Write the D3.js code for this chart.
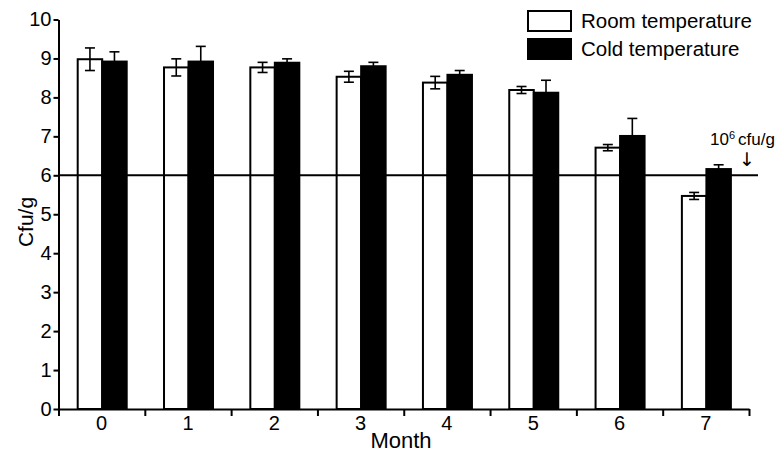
<!DOCTYPE html>
<html>
<head>
<meta charset="utf-8">
<script src="https://cdn.jsdelivr.net/npm/d3@7"></script>
<style>
  html, body { margin: 0; padding: 0; background: #fff; }
  svg text { font-family: "Liberation Sans", Arial, sans-serif; fill: #000; }
</style>
</head>
<body>
<div id="chart"></div>
<script>
// data
const months = ["0", "1", "2", "3", "4", "5", "6", "7"];
const roomVals = [8.98, 8.77, 8.77, 8.53, 8.38, 8.19, 6.71, 5.47];
const roomErr = [0.29, 0.22, 0.13, 0.14, 0.16, 0.09, 0.08, 0.09];
const coldVals = [8.92, 8.92, 8.89, 8.80, 8.58, 8.12, 7.01, 6.16];
const coldErr = [0.25, 0.39, 0.10, 0.10, 0.11, 0.32, 0.45, 0.11];
const yTicks = [0, 1, 2, 3, 4, 5, 6, 7, 8, 9, 10];
const seriesNames = ["Room temperature", "Cold temperature"];
const threshold = 6;

const w = 783, h = 454;
const padL = 58.5, padR = 749, padT = 19.5, padB = 409;

const svg = d3.select("#chart").append("svg")
  .attr("width", w).attr("height", h);

const x = d3.scaleBand().domain(months).range([padL, padR]).padding(0);
const xEdges = d3.scaleLinear().domain([0, months.length]).range([padL, padR]);
const inner = d3.scaleBand().domain(["room", "cold"]).range([19.2, 68.2]).padding(0);
const y = d3.scaleLinear().domain([0, 10]).range([padB, padT]);

const data = months.map((m, i) => ({
  month: m,
  vals: [
    {key: "room", v: roomVals[i], e: roomErr[i]},
    {key: "cold", v: coldVals[i], e: coldErr[i]}
  ]
}));

// bars
const groups = svg.selectAll("g.grp").data(data).enter().append("g")
  .attr("class", "grp")
  .attr("transform", d => `translate(${x(d.month)},0)`);

groups.selectAll("rect").data(d => d.vals).enter().append("rect")
  .attr("x", d => inner(d.key))
  .attr("width", inner.bandwidth())
  .attr("y", d => y(d.v))
  .attr("height", d => y(0) - y(d.v))
  .attr("fill", d => d.key === "room" ? "#fff" : "#000")
  .attr("stroke", "#000")
  .attr("stroke-width", 2);

// error bars
const eb = groups.selectAll("g.err").data(d => d.vals).enter().append("g")
  .attr("class", "err")
  .attr("stroke", "#000")
  .attr("stroke-width", 1.6);
const cx = d => inner(d.key) + inner.bandwidth() / 2;
eb.append("line")
  .attr("x1", cx).attr("x2", cx)
  .attr("y1", d => y(d.v + d.e)).attr("y2", d => y(d.v - d.e));
eb.append("line")
  .attr("x1", d => cx(d) - 5).attr("x2", d => cx(d) + 5)
  .attr("y1", d => y(d.v + d.e)).attr("y2", d => y(d.v + d.e));
eb.append("line")
  .attr("x1", d => cx(d) - 5).attr("x2", d => cx(d) + 5)
  .attr("y1", d => y(d.v - d.e)).attr("y2", d => y(d.v - d.e));

// threshold line
svg.append("line")
  .attr("x1", padL).attr("x2", 758)
  .attr("y1", y(threshold)).attr("y2", y(threshold))
  .attr("stroke", "#000").attr("stroke-width", 2);

// y axis
const yAxis = svg.append("g")
  .attr("transform", `translate(${padL},0)`)
  .call(d3.axisLeft(y).tickValues(yTicks).tickSize(5).tickSizeOuter(0).tickPadding(2));
yAxis.selectAll("text").style("font-size", "20px");

// x axis: edge ticks
svg.append("g")
  .attr("transform", `translate(0,${padB})`)
  .call(d3.axisBottom(xEdges).tickValues(d3.range(months.length + 1)).tickFormat("").tickSize(7).tickSizeOuter(0));

// x axis: labels
const xAxis = svg.append("g")
  .attr("transform", `translate(0,${padB})`)
  .call(d3.axisBottom(x).tickSize(0).tickPadding(7));
xAxis.select(".domain").remove();
xAxis.selectAll("text").style("font-size", "20px");

svg.selectAll(".domain, .tick line").attr("stroke", "#000").attr("stroke-width", 2);

// axis titles
svg.append("text")
  .attr("x", 401).attr("y", 448)
  .attr("text-anchor", "middle")
  .style("font-size", "22px")
  .text("Month");
svg.append("text")
  .attr("transform", "translate(33,222) rotate(-90)")
  .attr("text-anchor", "middle")
  .style("font-size", "21px")
  .text("Cfu/g");

// legend
const legend = svg.append("g").attr("transform", "translate(528,11)");
seriesNames.forEach((name, i) => {
  legend.append("rect")
    .attr("x", 0).attr("y", i * 28)
    .attr("width", 43).attr("height", 20)
    .attr("fill", i === 0 ? "#fff" : "#000")
    .attr("stroke", "#000").attr("stroke-width", 2);
  legend.append("text")
    .attr("x", 53).attr("y", i * 28 + 17)
    .style("font-size", "20.5px")
    .text(name);
});

// annotation
const ann = svg.append("text")
  .attr("x", 710).attr("y", 145)
  .style("font-size", "17px");
ann.append("tspan").text("10");
ann.append("tspan").attr("dy", -6).style("font-size", "11px").text("6");
ann.append("tspan").attr("dy", 6).attr("dx", 3).text("cfu/g");

svg.append("text")
  .attr("x", 747).attr("y", 166)
  .attr("text-anchor", "middle")
  .style("font-family", "'DejaVu Sans', sans-serif")
  .style("font-size", "19px")
  .text("\u2193");
</script>
</body>
</html>
